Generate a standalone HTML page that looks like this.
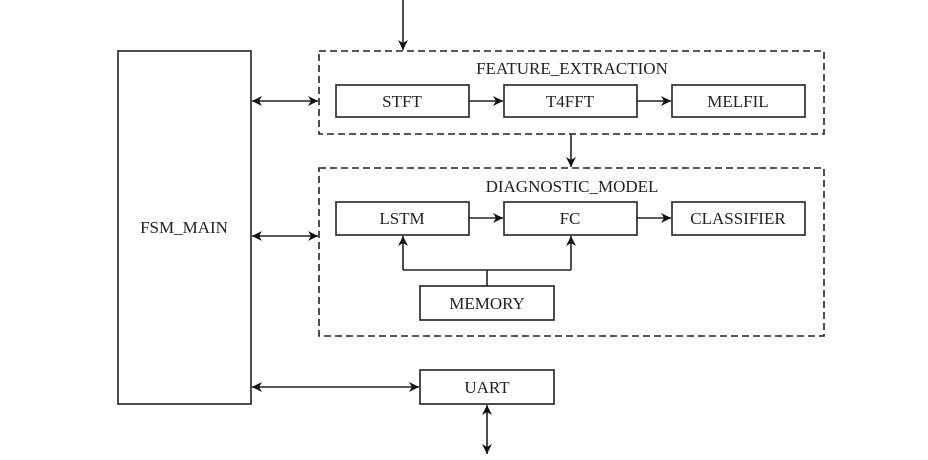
<!DOCTYPE html>
<html><head><style>body{margin:0;background:#fff}</style></head><body>
<svg width="928" height="455" xmlns="http://www.w3.org/2000/svg" font-family="Liberation Serif, serif" font-size="17" fill="none" stroke="#222" stroke-width="1.6">
<defs><marker id="a" viewBox="0 0 10 10" refX="10" refY="5" markerWidth="10" markerHeight="10" markerUnits="userSpaceOnUse" orient="auto-start-reverse"><path d="M0,0 L10,5 L0,10 L3,5z" fill="#111" stroke="none"/></marker></defs>
<rect x="118" y="51" width="133" height="353"/>
<rect x="319" y="51" width="505" height="83" stroke-dasharray="7,4"/>
<rect x="319" y="168" width="505" height="168" stroke-dasharray="7,4"/>
<rect x="336" y="85" width="133" height="32"/>
<rect x="504" y="85" width="133" height="32"/>
<rect x="672" y="85" width="133" height="32"/>
<rect x="336" y="202" width="133" height="33"/>
<rect x="504" y="202" width="133" height="33"/>
<rect x="672" y="202" width="133" height="33"/>
<rect x="420" y="286" width="134" height="34"/>
<rect x="420" y="370" width="134" height="34"/>
<line x1="403" y1="0" x2="403" y2="50" marker-end="url(#a)"/>
<line x1="252" y1="101" x2="318" y2="101" marker-start="url(#a)" marker-end="url(#a)"/>
<line x1="469" y1="101" x2="503" y2="101" marker-end="url(#a)"/>
<line x1="637" y1="101" x2="671" y2="101" marker-end="url(#a)"/>
<line x1="571" y1="134" x2="571" y2="167" marker-end="url(#a)"/>
<line x1="252" y1="236" x2="318" y2="236" marker-start="url(#a)" marker-end="url(#a)"/>
<line x1="469" y1="218" x2="503" y2="218" marker-end="url(#a)"/>
<line x1="637" y1="218" x2="671" y2="218" marker-end="url(#a)"/>
<polyline points="487,286 487,270"/>
<line x1="403" y1="270" x2="571" y2="270"/>
<line x1="403" y1="270" x2="403" y2="236" marker-end="url(#a)"/>
<line x1="571" y1="270" x2="571" y2="236" marker-end="url(#a)"/>
<line x1="252" y1="387" x2="419" y2="387" marker-start="url(#a)" marker-end="url(#a)"/>
<line x1="487" y1="405" x2="487" y2="454" marker-start="url(#a)" marker-end="url(#a)"/>
<g fill="#222" stroke="none" text-anchor="middle">
<text x="184" y="233">FSM_MAIN</text>
<text x="572" y="74">FEATURE_EXTRACTION</text>
<text x="402" y="107">STFT</text>
<text x="570" y="107">T4FFT</text>
<text x="738" y="107">MELFIL</text>
<text x="572" y="192">DIAGNOSTIC_MODEL</text>
<text x="402" y="224">LSTM</text>
<text x="570" y="224">FC</text>
<text x="738" y="224">CLASSIFIER</text>
<text x="487" y="309">MEMORY</text>
<text x="487" y="393">UART</text>
</g>
</svg>
</body></html>
